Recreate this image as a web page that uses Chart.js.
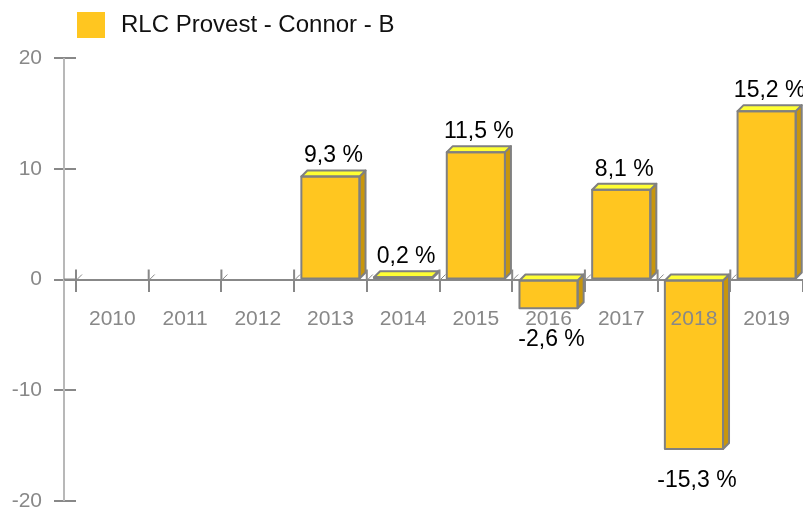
<!DOCTYPE html>
<html>
<head>
<meta charset="utf-8">
<script src="https://cdn.jsdelivr.net/npm/chart.js@4/dist/chart.umd.min.js"></script>
<style>
    html, body { margin: 0; padding: 0; background: #fff; }
    #wrap { width: 803px; height: 512px; position: relative; }
</style>
</head>
<body>
<div id="wrap"><canvas id="returnsChart"></canvas></div>
<script>
const years = ['2010', '2011', '2012', '2013', '2014', '2015', '2016', '2017', '2018', '2019'];
const returns = [null, null, null, 9.3, 0.2, 11.5, -2.6, 8.1, -15.3, 15.2];
const seriesName = 'RLC Provest - Connor - B';
const yTicks = [-20, -10, 0, 10, 20];

const frontColor = '#FFC620';
const topColor = '#FFFF33';
const sideColor = '#C8960C';
const edgeColor = '#808080';
const depth = 6;

Chart.defaults.font.family = "'Liberation Sans', Arial, sans-serif";

const fmt = v => v.toFixed(1).replace('.', ',') + ' %';

// draws the top and side faces, outlines and value labels
const bars3d = {
    id: 'bars3d',
    afterDatasetsDraw(chart) {
        const ctx = chart.ctx;
        const meta = chart.getDatasetMeta(0);
        const values = chart.data.datasets[0].data;
        ctx.save();
        ctx.lineWidth = 2;
        ctx.strokeStyle = edgeColor;
        ctx.lineJoin = 'round';
        meta.data.forEach((bar, i) => {
            const v = values[i];
            if (v === null) return;
            const p = bar.getProps(['x', 'y', 'base', 'width'], true);
            const l = p.x - p.width / 2;
            const r = p.x + p.width / 2;
            const top = Math.min(p.y, p.base);
            const bottom = Math.max(p.y, p.base);

            // side
            ctx.beginPath();
            ctx.moveTo(r, top);
            ctx.lineTo(r + depth, top - depth);
            ctx.lineTo(r + depth, bottom - depth);
            ctx.lineTo(r, bottom);
            ctx.closePath();
            ctx.fillStyle = sideColor;
            ctx.fill();
            ctx.stroke();

            // top
            ctx.beginPath();
            ctx.moveTo(l, top);
            ctx.lineTo(l + depth, top - depth);
            ctx.lineTo(r + depth, top - depth);
            ctx.lineTo(r, top);
            ctx.closePath();
            ctx.fillStyle = topColor;
            ctx.fill();
            ctx.stroke();

            // front outline
            ctx.strokeRect(l, top, r - l, bottom - top);

            // value label
            ctx.fillStyle = '#000';
            ctx.font = "23px 'Liberation Sans', Arial, sans-serif";
            ctx.textAlign = 'center';
            if (v >= 0) {
                ctx.textBaseline = 'bottom';
                ctx.fillText(fmt(v), p.x + depth / 2, top - depth - 3);
            } else {
                ctx.textBaseline = 'top';
                ctx.fillText(fmt(v), p.x + depth / 2, bottom + 20);
            }
        });
        ctx.restore();
    },
    afterDraw(chart) {
        const ctx = chart.ctx;
        const area = chart.chartArea;
        const xs = chart.scales.x;
        const zero = chart.scales.y.getPixelForValue(0);
        const axisX = area.left - 12;
        ctx.save();

        // vertical axis line
        ctx.strokeStyle = '#b8b8b8';
        ctx.lineWidth = 2;
        ctx.beginPath();
        ctx.moveTo(axisX, area.top);
        ctx.lineTo(axisX, area.bottom);
        ctx.stroke();

        // zero line start + upper halves of category ticks
        ctx.strokeStyle = '#888';
        ctx.beginPath();
        ctx.moveTo(axisX, zero);
        ctx.lineTo(area.left, zero);
        const step = xs.width / years.length;
        for (let i = 0; i < years.length; i++) {
            const bx = xs.left + i * step;
            ctx.moveTo(bx, zero - 10);
            ctx.lineTo(bx, zero);
        }
        ctx.stroke();
        ctx.lineWidth = 1;
        ctx.beginPath();
        for (let i = 0; i < years.length; i++) {
            const bx = xs.left + i * step;
            ctx.moveTo(bx, zero + 1);
            ctx.lineTo(bx + 6, zero - 5);
        }
        ctx.stroke();

        // legend
        const ds = chart.data.datasets[0];
        ctx.fillStyle = ds.backgroundColor;
        ctx.fillRect(77, 12, 28, 26);
        ctx.fillStyle = '#111';
        ctx.font = "24px 'Liberation Sans', Arial, sans-serif";
        ctx.textAlign = 'left';
        ctx.textBaseline = 'middle';
        ctx.fillText(ds.label, 121, 25);
        ctx.restore();
    }
};

new Chart(document.getElementById('returnsChart'), {
    type: 'bar',
    data: {
        labels: years,
        datasets: [{
            label: seriesName,
            data: returns,
            backgroundColor: frontColor,
            borderWidth: 0,
            categoryPercentage: 1,
            barPercentage: 0.8
        }]
    },
    options: {
        responsive: true,
        maintainAspectRatio: false,
        animation: false,
        layout: { padding: { top: 58, bottom: 11, left: 0, right: 0 } },
        plugins: {
            legend: { display: false },
            tooltip: { enabled: false }
        },
        scales: {
            x: {
                position: { y: 0 },
                afterFit: scale => {
                    scale.paddingLeft = 0;
                    scale.paddingRight = 0;
                },
                grid: {
                    drawOnChartArea: false,
                    tickLength: 11,
                    color: '#888',
                    lineWidth: 2
                },
                border: { color: '#888', width: 2 },
                ticks: {
                    z: 1,
                    color: '#888',
                    font: { size: 21 },
                    padding: 16,
                    maxRotation: 0
                }
            },
            y: {
                min: -20,
                max: 20,
                afterBuildTicks: scale => {
                    scale.ticks = yTicks.map(v => ({ value: v }));
                },
                afterFit: scale => {
                    scale.width = 76;
                    scale.paddingTop = 0;
                    scale.paddingBottom = 0;
                },
                grid: {
                    drawOnChartArea: false,
                    tickLength: 22,
                    color: '#888',
                    lineWidth: 2
                },
                border: { display: false },
                ticks: {
                    color: '#888',
                    font: { size: 21, lineHeight: 1 },
                    padding: 12
                }
            }
        }
    },
    plugins: [bars3d]
});
</script>
</body>
</html>
